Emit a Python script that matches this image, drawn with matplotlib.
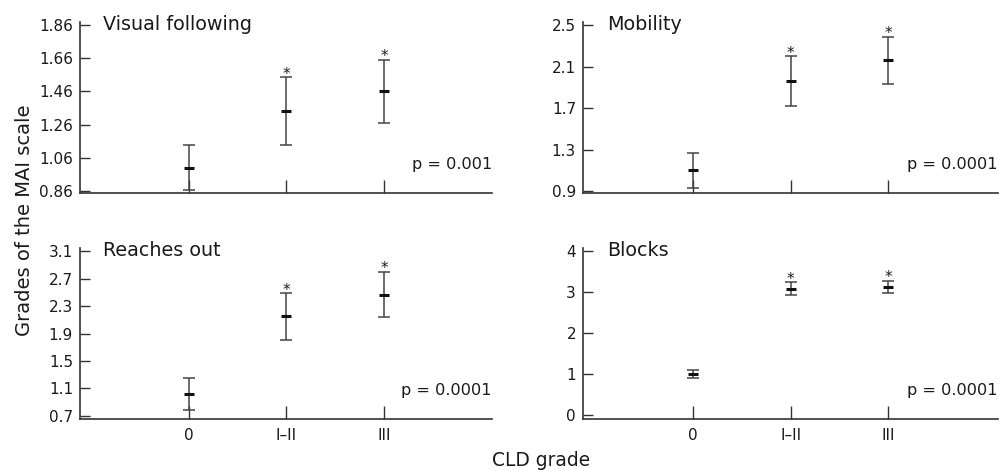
import matplotlib
matplotlib.use("Agg")
import matplotlib.pyplot as plt
import numpy as np

# ---------------- data ----------------
categories = ["0", "I\u2013II", "III"]
panel_titles = ["Visual following", "Mobility", "Reaches out", "Blocks"]
p_values = ["p = 0.001", "p = 0.0001", "p = 0.0001", "p = 0.0001"]
significant = [False, True, True]

visual_mean = [1.00, 1.34, 1.46]
visual_err = [0.135, 0.205, 0.19]
mobility_mean = [1.10, 1.96, 2.16]
mobility_err = [0.17, 0.24, 0.23]
reaches_mean = [1.02, 2.15, 2.47]
reaches_err = [0.23, 0.34, 0.33]
blocks_mean = [1.00, 3.08, 3.12]
blocks_err = [0.105, 0.155, 0.14]

visual_ticks = [0.86, 1.06, 1.26, 1.46, 1.66, 1.86]
visual_ticklabels = ["0.86", "1.06", "1.26", "1.46", "1.66", "1.86"]
mobility_ticks = [0.9, 1.3, 1.7, 2.1, 2.5]
mobility_ticklabels = ["0.9", "1.3", "1.7", "2.1", "2.5"]
reaches_ticks = [0.7, 1.1, 1.5, 1.9, 2.3, 2.7, 3.1]
reaches_ticklabels = ["0.7", "1.1", "1.5", "1.9", "2.3", "2.7", "3.1"]
blocks_ticks = [0, 1, 2, 3, 4]
blocks_ticklabels = ["0", "1", "2", "3", "4"]

x_label = "CLD grade"
y_label = "Grades of the MAI scale"

# ---------------- layout ----------------
W, H = 1003, 470
fig = plt.figure(figsize=(W / 100, H / 100), dpi=100)
plt.rcParams["font.family"] = ["DejaVu Sans"]

def frac_rect(x0, x1, ytop, ybot):
    return [x0 / W, 1 - ybot / H, (x1 - x0) / W, (ybot - ytop) / H]

panels = [
    dict(rect=frac_rect(80, 492, 22, 193), mean=visual_mean, err=visual_err,
         ticks=visual_ticks, labels=visual_ticklabels, ylim=(0.848, 1.878),
         xlim=(-1.118, 3.108), show_x=False),
    dict(rect=frac_rect(583, 998, 22, 193), mean=mobility_mean, err=mobility_err,
         ticks=mobility_ticks, labels=mobility_ticklabels, ylim=(0.881, 2.53),
         xlim=(-1.131, 3.125), show_x=False),
    dict(rect=frac_rect(80, 492, 248, 419), mean=reaches_mean, err=reaches_err,
         ticks=reaches_ticks, labels=reaches_ticklabels, ylim=(0.652, 3.15),
         xlim=(-1.118, 3.108), show_x=True),
    dict(rect=frac_rect(583, 998, 248, 419), mean=blocks_mean, err=blocks_err,
         ticks=blocks_ticks, labels=blocks_ticklabels, ylim=(-0.097, 4.066),
         xlim=(-1.131, 3.125), show_x=True),
]

spine_col = "#333333"
err_col = "#444444"
text_col = "#1a1a1a"

for i, p in enumerate(panels):
    ax = fig.add_axes(p["rect"])
    x = np.arange(len(categories))
    ax.errorbar(x, p["mean"], yerr=p["err"], fmt="none", ecolor=err_col,
                elinewidth=1.1, capsize=4.4, capthick=1.1, zorder=2)
    ax.plot(x, p["mean"], linestyle="none", marker="_", markersize=6.5,
            markeredgewidth=2.2, color="#111111", zorder=3)
    for xi, m, e, s in zip(x, p["mean"], p["err"], significant):
        if s:
            ax.annotate("*", xy=(xi, m + e), xytext=(0, -1.0),
                        textcoords="offset points", ha="center", va="baseline",
                        fontsize=11, color=text_col)
    ax.set_xlim(*p["xlim"])
    ax.set_ylim(*p["ylim"])
    ax.set_yticks(p["ticks"])
    ax.set_yticklabels(p["labels"])
    ax.set_xticks(x)
    if p["show_x"]:
        ax.set_xticklabels(categories)
    else:
        ax.set_xticklabels([])
    for side in ("top", "right"):
        ax.spines[side].set_visible(False)
    for side in ("left", "bottom"):
        ax.spines[side].set_color(spine_col)
        ax.spines[side].set_linewidth(1.2)
    ax.tick_params(axis="y", direction="in", length=7.2, width=1.0,
                   color=spine_col, pad=5.0, labelsize=11, labelcolor=text_col)
    ax.tick_params(axis="x", direction="in", length=9.4, width=1.0,
                   color=spine_col, pad=6.5, labelsize=11, labelcolor=text_col)
    ax.patch.set_visible(False)
    ax.text(0.057, 0.955, panel_titles[i], transform=ax.transAxes,
            ha="left", va="baseline", fontsize=13.8, color=text_col,
            clip_on=False)
    ax.text(1.0, 0.138, p_values[i], transform=ax.transAxes,
            ha="right", va="baseline", fontsize=11.6, color=text_col)

fig.text(541 / W, 1 - 460 / H, x_label, ha="center", va="center",
         fontsize=13.4, color=text_col)
fig.text(25 / W, 1 - 220 / H, y_label, ha="center", va="center",
         rotation=90, fontsize=14, color=text_col)

fig.savefig("out.png", dpi=100)
